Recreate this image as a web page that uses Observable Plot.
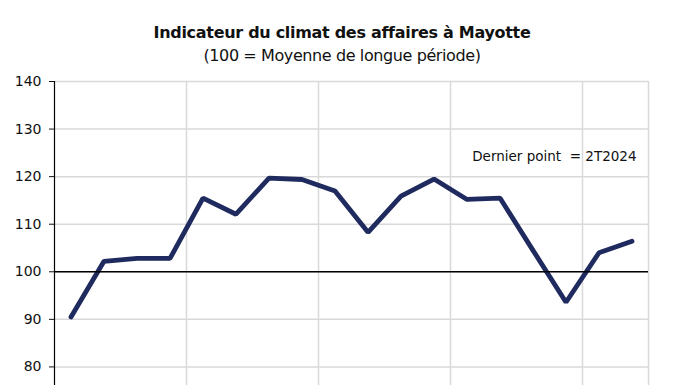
<!DOCTYPE html>
<html>
<head>
<meta charset="utf-8">
<script src="https://cdn.jsdelivr.net/npm/d3@7"></script>
<script src="https://cdn.jsdelivr.net/npm/@observablehq/plot@0.6"></script>
<style>
  body { margin: 0; background: #fff; font-family: "DejaVu Sans", sans-serif; }
  #wrap { width: 696px; height: 450px; overflow: hidden; }
  .title { width: 684px; text-align: center; color: #111; white-space: nowrap; }
  #t1 { padding-top: 21px; height: 24px; line-height: 24px; font-size: 16px; font-weight: bold; letter-spacing: -0.3px; }
  #t2 { height: 25px; line-height: 22px; font-size: 16px; letter-spacing: -0.4px; }
  #chart svg { display: block; }
</style>
</head>
<body>
<div id="wrap">
  <div class="title" id="t1">Indicateur du climat des affaires à Mayotte</div>
  <div class="title" id="t2">(100 = Moyenne de longue période)</div>
  <div id="chart"></div>
</div>
<script>
const quarters = ["1T2020","2T2020","3T2020","4T2020","1T2021","2T2021","3T2021","4T2021",
  "1T2022","2T2022","3T2022","4T2022","1T2023","2T2023","3T2023","4T2023","1T2024","2T2024"];
const values = [90.5, 102.2, 102.8, 102.8, 115.5, 112.1, 119.7, 119.4,
  117.0, 108.3, 115.9, 119.5, 115.2, 115.5, 104.5, 93.6, 104.0, 106.4];
const yTicks = [80, 90, 100, 110, 120, 130, 140];
const yearStarts = ["1T2021", "1T2022", "1T2023", "1T2024"];
const lastQuarter = "2T2024";
const reference = 100;
const note = "Dernier point  = 2T2024";
const noteLevel = 124.1;

const data = quarters.map((q, i) => ({q, v: values[i]}));
const bw = (648 - 54) / quarters.length;

const plot = Plot.plot({
  width: 696,
  height: 374,
  marginTop: 11,
  marginLeft: 54,
  marginRight: 48,
  marginBottom: 30,
  style: {fontFamily: "DejaVu Sans, sans-serif", fontSize: "13px", color: "#111", background: "#fff"},
  x: {type: "band", domain: quarters, padding: 0, axis: null},
  y: {domain: [70, 140], axis: null},
  marks: [
    Plot.ruleY(yTicks, {stroke: "#d9d9d9", strokeWidth: 1.5}),
    Plot.ruleX(yearStarts, {stroke: "#d9d9d9", strokeWidth: 1.5, dx: -bw / 2}),
    Plot.ruleX([lastQuarter], {stroke: "#d9d9d9", strokeWidth: 1.5, dx: bw / 2}),
    Plot.axisY({ticks: yTicks, label: null, tickSize: 5, tickPadding: 8, tickFormat: d => String(d), fontSize: 14}),
    Plot.ruleX([quarters[0]], {stroke: "#000", strokeWidth: 1.2, dx: -bw / 2}),
    Plot.line(data, {x: "q", y: "v", stroke: "#1f2a5e", strokeWidth: 4.8, strokeLinejoin: "miter"}),
    Plot.ruleY([reference], {stroke: "#000", strokeWidth: 1.5}),
    Plot.text([note], {frameAnchor: "right", y: [noteLevel], text: d => d, fontSize: 13.5, textAnchor: "end", dx: -12, fill: "#111"})
  ]
});
document.getElementById("chart").appendChild(plot);
</script>
</body>
</html>
